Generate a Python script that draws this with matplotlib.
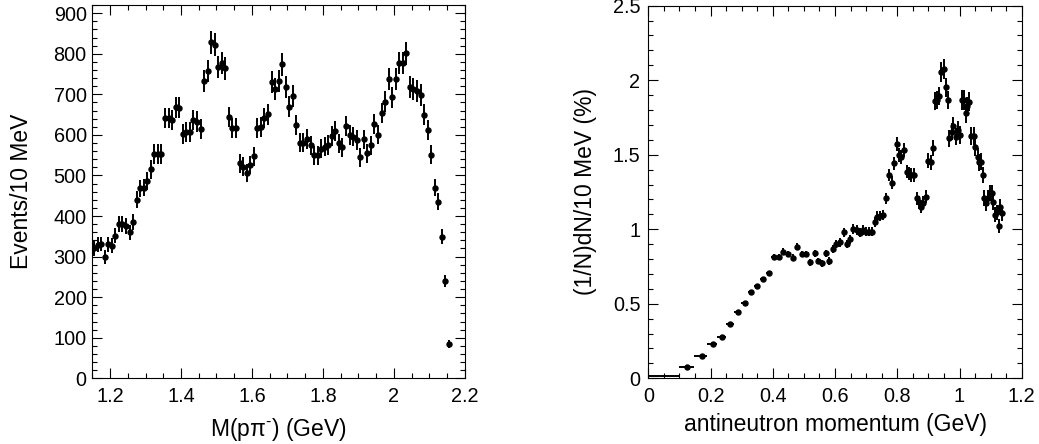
import numpy as np
import matplotlib
matplotlib.use("Agg")
import matplotlib.pyplot as plt
from matplotlib.ticker import MultipleLocator, FuncFormatter

# left panel: M(p pi-) spectrum, 10 MeV bins from 1.15 to 2.16 GeV
mass_lo = 1.15
mass_bin = 0.01
counts = [320, 329, 331, 300, 330, 327, 352, 380, 380, 375,
          360, 385, 440, 468, 470, 487, 515, 553, 553, 553,
          642, 642, 637, 668, 667, 602, 607, 607, 637, 633,
          614, 733, 758, 828, 822, 768, 777, 764, 644, 616,
          618, 530, 522, 507, 526, 547, 616, 620, 642, 651,
          731, 713, 732, 774, 719, 670, 696, 625, 581, 581,
          590, 574, 550, 550, 566, 571, 575, 598, 609, 579,
          569, 622, 600, 596, 588, 545, 589, 555, 574, 627,
          601, 654, 682, 738, 693, 738, 777, 777, 801, 718,
          714, 708, 698, 650, 611, 551, 470, 435, 349, 240,
          85]

# right panel: antineutron momentum spectrum
p_centers = [0.125, 0.171, 0.207, 0.237, 0.264, 0.287, 0.310, 0.331, 0.350, 0.369,
             0.387, 0.404, 0.419, 0.434, 0.450, 0.464, 0.479, 0.493, 0.507, 0.521,
             0.535, 0.545, 0.558, 0.570, 0.582, 0.594, 0.604, 0.616, 0.628, 0.637,
             0.648, 0.659, 0.670, 0.680, 0.691, 0.701, 0.710, 0.720, 0.728, 0.736,
             0.746, 0.755, 0.764, 0.774, 0.782, 0.790, 0.798, 0.806, 0.813, 0.820,
             0.830, 0.837, 0.845, 0.854, 0.862, 0.869, 0.877, 0.884, 0.893, 0.899,
             0.908, 0.914, 0.920, 0.929, 0.934, 0.942, 0.949, 0.956, 0.962, 0.967,
             0.975, 0.980, 0.988, 0.994, 1.002, 1.007, 1.015, 1.020, 1.025, 1.032,
             1.038, 1.045, 1.051, 1.058, 1.063, 1.069, 1.075, 1.080, 1.086, 1.092,
             1.098, 1.104, 1.109, 1.114, 1.121, 1.126, 1.131, 1.137]
frac = [0.074, 0.148, 0.228, 0.280, 0.364, 0.443, 0.508, 0.581, 0.622, 0.664,
        0.704, 0.812, 0.816, 0.850, 0.834, 0.810, 0.883, 0.834, 0.834, 0.778,
        0.839, 0.787, 0.771, 0.839, 0.787, 0.868, 0.899, 0.912, 0.979, 0.899,
        0.932, 1.000, 0.995, 0.977, 0.995, 0.984, 0.984, 0.984, 1.051, 1.085,
        1.089, 1.096, 1.208, 1.364, 1.313, 1.442, 1.570, 1.498, 1.487, 1.532,
        1.386, 1.375, 1.364, 1.364, 1.208, 1.181, 1.147, 1.178, 1.219, 1.460,
        1.449, 1.543, 1.860, 1.867, 1.894, 2.057, 2.073, 1.952, 1.867, 1.610,
        1.655, 1.695, 1.621, 1.666, 1.632, 1.867, 1.867, 1.778, 1.827, 1.856,
        1.626, 1.626, 1.550, 1.487, 1.449, 1.453, 1.364, 1.208, 1.174, 1.208,
        1.241, 1.245, 1.181, 1.096, 1.114, 1.022, 1.152, 1.107]
frac_err = [0.006, 0.007, 0.008, 0.008, 0.009, 0.010, 0.011, 0.012, 0.013, 0.013,
            0.014, 0.020, 0.020, 0.021, 0.021, 0.021, 0.023, 0.022, 0.022, 0.022,
            0.024, 0.023, 0.023, 0.025, 0.024, 0.026, 0.027, 0.028, 0.029, 0.028,
            0.030, 0.032, 0.032, 0.032, 0.032, 0.032, 0.032, 0.032, 0.034, 0.035,
            0.036, 0.036, 0.038, 0.042, 0.041, 0.044, 0.048, 0.047, 0.047, 0.048,
            0.045, 0.045, 0.045, 0.045, 0.042, 0.042, 0.041, 0.042, 0.043, 0.050,
            0.050, 0.053, 0.060, 0.060, 0.062, 0.066, 0.066, 0.064, 0.062, 0.058,
            0.059, 0.060, 0.058, 0.060, 0.059, 0.064, 0.064, 0.062, 0.063, 0.064,
            0.060, 0.060, 0.058, 0.056, 0.056, 0.056, 0.055, 0.052, 0.051, 0.052,
            0.054, 0.054, 0.053, 0.050, 0.051, 0.049, 0.052, 0.051]
# first wide bin 0 - 0.1 GeV, drawn only as a horizontal bar
first_bin_p = [0.05]
first_bin_val = [0.012]
first_bin_half = [0.05]

plt.rcParams["font.family"] = ["Liberation Sans", "DejaVu Sans"]
plt.rcParams["mathtext.fontset"] = "custom"
plt.rcParams["mathtext.rm"] = "Liberation Sans"
plt.rcParams["mathtext.it"] = "Liberation Sans"
plt.rcParams["mathtext.default"] = "rm"


def fmt(v, pos):
    return "%g" % round(v, 4)


def style_axes(ax, ypad):
    ax.tick_params(which="both", direction="in", top=True, right=True,
                   width=0.8, labelsize=14.3)
    ax.tick_params(which="major", length=7.5)
    ax.tick_params(which="minor", length=3.6)
    ax.tick_params(axis="x", pad=6.5)
    ax.tick_params(axis="y", pad=ypad)
    ax.xaxis.set_major_formatter(FuncFormatter(fmt))
    ax.yaxis.set_major_formatter(FuncFormatter(fmt))
    for s in ax.spines.values():
        s.set_linewidth(0.8)


fig = plt.figure(figsize=(10.39, 4.44), dpi=100)

# ---- left: invariant mass
ax1 = fig.add_axes([0.0888, 0.148, 0.3587, 0.8414])
m = mass_lo + mass_bin * (np.arange(len(counts)) + 0.5)
c = np.array(counts, dtype=float)
ax1.errorbar(m, c, yerr=np.sqrt(c), xerr=mass_bin / 2, fmt="o", color="black",
             ms=3.6, elinewidth=1.4, capsize=0)
ax1.set_xlim(1.15, 2.2)
ax1.set_ylim(0, 921)
ax1.xaxis.set_major_locator(MultipleLocator(0.2))
ax1.xaxis.set_minor_locator(MultipleLocator(0.05))
ax1.yaxis.set_major_locator(MultipleLocator(100))
ax1.yaxis.set_minor_locator(MultipleLocator(20))
style_axes(ax1, 4.0)
# short hyphen as the superscript charge sign, like the original
ax1.set_xlabel("M(pπ$^{\u2010}$) (GeV)", fontsize=16.5)
ax1.set_ylabel("Events/10 MeV", fontsize=16.5)
ax1.yaxis.set_label_coords(-0.159, 0.5)
ax1.xaxis.set_label_coords(0.5, -0.1)

# ---- right: antineutron momentum
ax2 = fig.add_axes([0.624, 0.148, 0.3594, 0.8392])
p = np.array(p_centers)
edges = np.concatenate([[0.10], (p[1:] + p[:-1]) / 2, [p[-1] + (p[-1] - p[-2]) / 2]])
ax2.errorbar(first_bin_p, first_bin_val, xerr=first_bin_half, fmt="none",
             ecolor="black", elinewidth=1.4)
ax2.errorbar(p, frac, yerr=frac_err,
             xerr=[p - edges[:-1], edges[1:] - p], fmt="o", color="black",
             ms=3.6, elinewidth=1.4, capsize=0)
ax2.set_xlim(0, 1.2)
ax2.set_ylim(0, 2.5)
ax2.xaxis.set_major_locator(MultipleLocator(0.2))
ax2.xaxis.set_minor_locator(MultipleLocator(0.05))
ax2.yaxis.set_major_locator(MultipleLocator(0.5))
ax2.yaxis.set_minor_locator(MultipleLocator(0.1))
style_axes(ax2, 5.8)
ax2.set_xlabel("antineutron momentum (GeV)", fontsize=16.5)
ax2.set_ylabel("(1/N)dN/10 MeV (%)", fontsize=16.5)
ax2.yaxis.set_label_coords(-0.137, 0.5)
ax2.xaxis.set_label_coords(0.5, -0.093)

fig.savefig("out.png", dpi=100)
